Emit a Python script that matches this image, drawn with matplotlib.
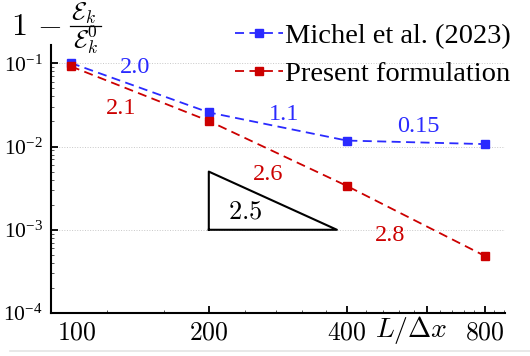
import matplotlib
matplotlib.use("Agg")
import matplotlib.pyplot as plt
from matplotlib.ticker import FixedLocator, FixedFormatter, MultipleLocator, LogLocator, NullFormatter
from matplotlib.lines import Line2D
from matplotlib.transforms import ScaledTranslation

plt.rcParams['font.family'] = ['Liberation Serif', 'DejaVu Serif']
plt.rcParams['mathtext.fontset'] = 'cm'

# ---- data ----
resolution = [100, 200, 400, 800]
michel = [0.101, 0.0257, 0.0118, 0.0107]
present = [0.092, 0.0203, 0.00337, 0.000486]
series_labels = ["Michel et al. (2023)", "Present formulation"]

xtick_values = [100, 200, 400, 600, 800]
xtick_labels = ["$100$", "$200$", "$400$", "", "$800$"]
ytick_values = [1e-4, 1e-3, 1e-2, 1e-1]
ytick_labels = [r"$\mathregular{10^{-4}}$", r"$\mathregular{10^{-3}}$",
                r"$\mathregular{10^{-2}}$", r"$\mathregular{10^{-1}}$"]

rate_texts = ["2.0", "1.1", "0.15", "2.1", "2.6", "2.8"]
rate_x = [138, 292, 572, 129, 269, 497]
rate_y = [0.090, 0.024, 0.0173, 0.0288, 0.00456, 0.00085]
rate_series = [0, 0, 0, 1, 1, 1]

tri_x = [200, 380.7, 200]
tri_y = [1e-3, 1e-3, 5e-3]
tri_label = "$2.5$"

blue = '#2a2aff'
red = '#cc0000'
colors = [blue, red]

fig = plt.figure(figsize=(5.30, 3.56), dpi=100)
ax = fig.add_axes([51/530, 1-313/356, (505-51)/530, (313-45)/356])

for vals, col, lab in zip([michel, present], colors, series_labels):
    ax.plot(resolution, vals, ls=(0, (5, 3)), lw=1.3, color=col,
            marker='s', ms=6, mec=col, mfc=col, label=lab)

ax.set_xscale('log')
ax.set_yscale('log')
ax.set_xlim(90.5, 886)
ax.set_ylim(1e-4, 0.166)

# triangle
ax.plot(tri_x + [tri_x[0]], tri_y + [tri_y[0]], color='black', lw=1.5)
ax.text(240, 0.0016, tri_label, fontsize=19, ha='center', va='center')

for t, x, y, s in zip(rate_texts, rate_x, rate_y, rate_series):
    ax.text(x, y, t, color=colors[s], fontsize=17.5, ha='center', va='center')

# axes styling
for side in ['top', 'right']:
    ax.spines[side].set_visible(False)
for side in ['left', 'bottom']:
    ax.spines[side].set_linewidth(1.5)

ax.xaxis.set_major_locator(FixedLocator(xtick_values))
ax.xaxis.set_major_formatter(FixedFormatter(xtick_labels))
ax.xaxis.set_minor_locator(MultipleLocator(40))
ax.xaxis.set_minor_formatter(NullFormatter())
ax.yaxis.set_major_locator(FixedLocator(ytick_values))
ax.yaxis.set_major_formatter(FixedFormatter(ytick_labels))
ax.yaxis.set_minor_locator(LogLocator(base=10, subs=range(2, 10)))
ax.yaxis.set_minor_formatter(NullFormatter())

ax.tick_params(which='major', direction='in', length=5, width=1.3)
ax.tick_params(which='minor', direction='in', length=2.5, width=0.7, color='#555555')
ax.tick_params(axis='x', which='major', labelsize=18.5, pad=7)
ax.tick_params(axis='y', which='major', labelsize=15.5, pad=6)

ax.yaxis.grid(True, which='major', ls=':', color='#c8c8c8', lw=0.7)
ax.set_axisbelow(True)

ticks = ax.xaxis.get_major_ticks()
ticks[0].tick1line.set_visible(False)
ticks[0].label1.set_transform(ticks[0].label1.get_transform() +
                              ScaledTranslation(6/100, 0, fig.dpi_scale_trans))

ax.text(0.793, -0.063, r"$L/\Delta x$", transform=ax.transAxes,
        fontsize=20, ha='center', va='center')

# y label: 1 - E_k / E_k^0 (built from parts)
W, H = 530.0, 356.0
fig.text(11/W, 1-24/H, r"$1\,-$", fontsize=23, ha='left', va='center_baseline')
fig.text(84/W, 1-13/H, r"$\mathcal{E}_k$", fontsize=18, ha='center', va='center')
fig.text(86/W, 1-40/H, r"$\mathcal{E}_k^0$", fontsize=18, ha='center', va='center')
fig.add_artist(Line2D([70/W, 101/W], [1-25.5/H, 1-25.5/H], color='black', lw=0.9,
                      transform=fig.transFigure))

leg = ax.legend(loc='upper left', bbox_to_anchor=(235/530, 1-23/356),
                bbox_transform=fig.transFigure, frameon=False, fontsize=20.5,
                handlelength=1.7, handletextpad=0.05, borderpad=0,
                borderaxespad=0, labelspacing=0.42)

fig.add_artist(Line2D([10/530, 1.0], [1-351/356, 1-351/356],
                      color='#e4e4e4', lw=1.2, transform=fig.transFigure))

fig.savefig('out.png', dpi=100)
